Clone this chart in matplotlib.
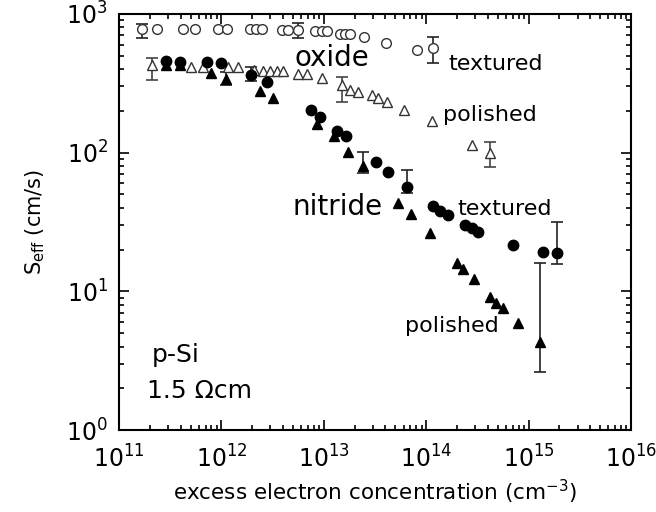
import numpy as np
import matplotlib
matplotlib.use("Agg")
import matplotlib.pyplot as plt
from matplotlib.ticker import LogLocator, NullFormatter

plt.rcParams['font.family'] = ['DejaVu Sans']
plt.rcParams['mathtext.fontset'] = 'dejavusans'

# oxide, textured surface (open circles)
ox_tex_n = [1.67e11, 2.35e11, 4.2e11, 5.5e11, 9.3e11, 1.13e12, 1.9e12, 2.2e12, 2.5e12,
            3.9e12, 4.5e12, 5.6e12, 8.2e12, 9.6e12, 1.07e13, 1.44e13, 1.6e13, 1.8e13,
            2.47e13, 4.05e13, 8.1e13, 1.16e14]
ox_tex_s = [780, 780, 780, 780, 780, 780, 775, 775, 775,
            770, 770, 767, 753, 753, 753, 717, 717, 717,
            682, 618, 550, 569]
ox_tex_err_n = [1.67e11, 5.6e12, 1.16e14]
ox_tex_err_s = [780, 767, 569]
ox_tex_err_lo = [672, 672, 444]
ox_tex_err_hi = [847, 861, 682]

# oxide, polished surface (open triangles)
ox_pol_n = [2.1e11, 5.1e11, 6.6e11, 1.16e12, 1.45e12, 2.1e12, 2.55e12, 3.0e12, 3.5e12,
            4.0e12, 5.6e12, 6.9e12, 9.6e12, 1.5e13, 1.8e13, 2.16e13, 2.96e13, 3.4e13,
            4.1e13, 6.1e13, 1.14e14, 2.8e14, 4.2e14]
ox_pol_s = [429, 415, 415, 415, 415, 394, 388, 388, 388,
            388, 369, 369, 346, 308, 283, 274, 261, 248,
            232, 203, 169, 114, 99.6]
ox_pol_err_n = [2.1e11, 1.5e13, 4.2e14]
ox_pol_err_s = [429, 308, 99.6]
ox_pol_err_lo = [334, 232, 79]
ox_pol_err_hi = [482, 351, 119]

# nitride, textured surface (filled circles)
ni_tex_n = [2.9e11, 3.9e11, 7.2e11, 9.9e11, 1.95e12, 2.8e12, 7.5e12, 9.2e12, 1.35e13,
            1.65e13, 3.2e13, 4.2e13, 6.5e13, 1.16e14, 1.36e14, 1.63e14, 2.4e14, 2.8e14,
            3.2e14, 7.0e14, 1.38e15, 1.9e15]
ni_tex_s = [458, 451, 451, 444, 363, 324, 203, 181, 143,
            132, 85.7, 72.6, 56.6, 41.3, 38, 35.6, 30.1, 28.7,
            26.8, 21.6, 19.2, 18.9]
ni_tex_err_n = [1.95e12, 6.5e13, 1.9e15]
ni_tex_err_s = [363, 56.6, 18.9]
ni_tex_err_lo = [329, 51, 15.7]
ni_tex_err_hi = [415, 75, 31.6]

# nitride, polished surface (filled triangles)
ni_pol_n = [2.9e11, 3.9e11, 7.9e11, 1.11e12, 2.38e12, 3.2e12, 8.6e12, 1.26e13, 1.72e13,
            2.42e13, 5.3e13, 7.1e13, 1.09e14, 2.0e14, 2.29e14, 2.93e14, 4.2e14, 4.8e14,
            5.6e14, 7.9e14, 1.29e15]
ni_pol_s = [429, 429, 376, 340, 279, 248, 161, 132, 101,
            80.2, 43.4, 36.1, 26.4, 16, 14.5, 12.3, 9.1, 8.25,
            7.6, 5.9, 4.3]
ni_pol_err_n = [1.11e12, 2.42e13, 1.29e15]
ni_pol_err_s = [340, 80.2, 4.3]
ni_pol_err_lo = [308, 71.5, 2.63]
ni_pol_err_hi = [382, 101, 16]

fig = plt.figure(figsize=(6.56, 5.12), dpi=100)
ax = fig.add_axes([0.1814, 0.160, 0.7806, 0.813])


def draw_errors(n, s, lo, hi, color='#222222'):
    s = np.array(s)
    yerr = [s - np.array(lo), np.array(hi) - s]
    ax.errorbar(n, s, yerr=yerr, fmt='none', ecolor=color, elinewidth=1.2,
                capsize=4, capthick=1.2, zorder=2)


draw_errors(ox_tex_err_n, ox_tex_err_s, ox_tex_err_lo, ox_tex_err_hi)
draw_errors(ox_pol_err_n, ox_pol_err_s, ox_pol_err_lo, ox_pol_err_hi, '#444444')
draw_errors(ni_tex_err_n, ni_tex_err_s, ni_tex_err_lo, ni_tex_err_hi)
draw_errors(ni_pol_err_n, ni_pol_err_s, ni_pol_err_lo, ni_pol_err_hi)

ax.plot(ox_tex_n, ox_tex_s, 'o', ms=7, mfc='white', mec='#333333', mew=1.0, zorder=3)
ax.plot(ox_pol_n, ox_pol_s, '^', ms=6.5, mfc='white', mec='#333333', mew=1.0, zorder=3)
ax.plot(ni_tex_n, ni_tex_s, 'o', ms=7.5, mfc='black', mec='black', zorder=4)
ax.plot(ni_pol_n, ni_pol_s, '^', ms=7, mfc='black', mec='black', zorder=4)

ax.set_xscale('log')
ax.set_yscale('log')
ax.set_xlim(1e11, 1e16)
ax.set_ylim(1, 1e3)

ax.xaxis.set_major_locator(LogLocator(base=10, numticks=10))
ax.xaxis.set_minor_locator(LogLocator(base=10, subs=np.arange(2, 10), numticks=20))
ax.xaxis.set_minor_formatter(NullFormatter())
ax.yaxis.set_minor_formatter(NullFormatter())

ax.tick_params(which='both', direction='in', top=True, right=True, labelsize=17, width=1.2)
ax.tick_params(which='major', length=7)
ax.tick_params(which='minor', length=3.5)
ax.tick_params(axis='x', which='major', pad=11)
ax.tick_params(axis='y', which='major', pad=8)
for sp in ax.spines.values():
    sp.set_linewidth(1.5)

ax.set_xlabel('excess electron concentration (cm$^{-3}$)', fontsize=15.5, labelpad=4)
ax.set_ylabel('S$_{\\mathrm{eff}}$ (cm/s)', fontsize=15, labelpad=14)

# series labels
ax.text(1.2e13, 422, 'oxide', fontsize=20, ha='center', va='baseline')
ax.text(1.63e14, 395, 'textured', fontsize=16, ha='left', va='baseline')
ax.text(1.46e14, 169, 'polished', fontsize=16, ha='left', va='baseline')
ax.text(4.9e12, 35.6, 'nitride', fontsize=20, ha='left', va='baseline')
ax.text(2.0e14, 35.6, 'textured', fontsize=16, ha='left', va='baseline')
ax.text(6.2e13, 5.1, 'polished', fontsize=16, ha='left', va='baseline')

ax.text(0.064, 0.163, 'p-Si', fontsize=18, transform=ax.transAxes, va='baseline')
ax.text(0.055, 0.077, '1.5 \u03a9cm', fontsize=18, transform=ax.transAxes, va='baseline')

fig.savefig('out.png', dpi=100)
